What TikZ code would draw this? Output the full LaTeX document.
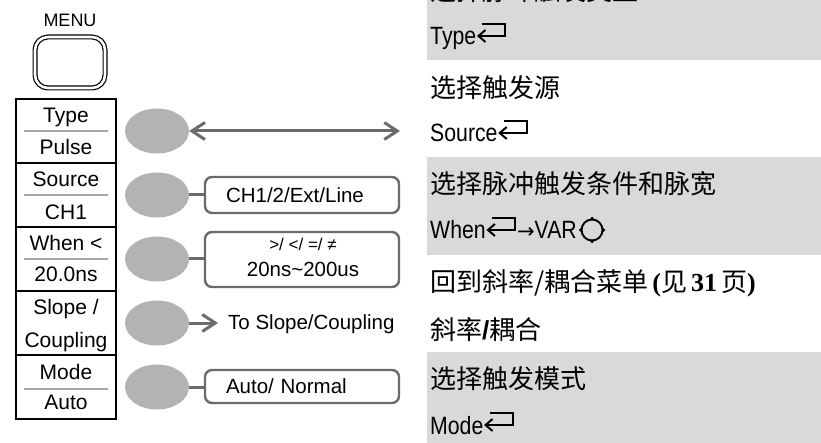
\documentclass[tikz,border=0pt]{standalone}
\usepackage{fontspec}
\setmainfont{Liberation Sans}
\newfontfamily\cjk{Noto Sans CJK SC}
\newfontfamily\serifb{Liberation Serif}
\newfontfamily\dejavu{DejaVu Sans}
\newfontfamily\narrowsans{Liberation Sans}[FakeStretch=0.85]
\usetikzlibrary{arrows.meta,shapes.geometric}
\definecolor{btngray}{HTML}{B3B3B3}
\definecolor{linegray}{HTML}{6B6B6B}
\definecolor{bandgray}{HTML}{D9D9D9}
\definecolor{sepgray}{HTML}{A6A6A6}
\begin{document}
\begin{tikzpicture}[x=1pt,y=-1pt,
  btn/.style={ellipse, fill=btngray, minimum width=64pt, minimum height=45pt, inner sep=0pt},
  conn/.style={draw=linegray, line width=3pt},
  optbox/.style={draw=linegray, line width=2.4pt, rounded corners=7pt, minimum width=194pt, inner sep=0pt},
  boxtext/.style={font=\fontsize{20.5}{24}\selectfont, text width=152pt, align=left, inner xsep=21pt, text height=14.7pt, text depth=0pt},
  ptext/.style={anchor=base, inner sep=0pt, font=\fontsize{21}{25}\selectfont},
  btext/.style={anchor=base west, inner sep=0pt, font=\fontsize{20.5}{24}\selectfont},
  rlat/.style={anchor=base west, inner sep=0pt, font=\fontsize{25}{29}\selectfont\narrowsans},
  rcjk/.style={anchor=base west, inner sep=0pt, font=\fontsize{26}{30}\selectfont\cjk},
  retsym/.pic={
    \draw[line width=2pt, line join=miter] (7,-6) -- (0,0) -- (7,6);
    \draw[line width=2pt, line join=miter] (0,0) -- (27,0) -- (27,-12) -- (4,-12);
  }
]
\useasboundingbox (0,0) rectangle (821,443);

% right-hand gray bands
\fill[bandgray] (427,-2) rectangle (823,60);
\fill[bandgray] (427,157.5) rectangle (823,255);
\fill[bandgray] (427,352) rectangle (823,445);

% MENU button
\node[anchor=base, inner sep=0pt, font=\fontsize{18}{20}\selectfont] (menuT) at (70,27) {MENU};
\node[draw, double, double distance=2.6pt, line width=1.2pt, rounded corners=13pt,
      minimum width=70pt, minimum height=51pt, inner sep=0pt] (menuB) at (70,62.5) {};

% left panel
\draw[line width=1.2pt] (16,99) rectangle (116,419);
\foreach \yy in {163,227,291,355} \draw[line width=1.2pt] (16,\yy) -- (116,\yy);
\foreach \yy in {131,195,259,389} \draw[sepgray, line width=1.3pt] (24,\yy) -- (108,\yy);

\node[ptext] (pType)  at (66,123) {Type};
\node[ptext] (pPulse) at (66,155) {Pulse};
\node[ptext] (pSrc)   at (66,187) {Source};
\node[ptext] (pCH1)   at (66,220) {CH1};
\node[ptext] (pWhen)  at (66,251) {When <};
\node[ptext] (pTime)  at (66,282) {20.0ns};
\node[ptext] (pSlope) at (66,315) {Slope /};
\node[ptext] (pCoup)  at (66,347) {Coupling};
\node[ptext] (pMode)  at (66,379) {Mode};
\node[ptext] (pAuto)  at (66,409) {Auto};

% soft-key buttons
\node[btn] (b1) at (157,131) {};
\node[btn] (b2) at (157,195) {};
\node[btn] (b3) at (157,259) {};
\node[btn] (b4) at (157,323) {};
\node[btn] (b5) at (157,387) {};

% option boxes
\node[optbox, boxtext, minimum height=36pt] (srcbox) at (302,195) {CH1/2/Ext/Line};
\node[optbox, minimum height=55pt] (wbox) at (302,259.5) {};
\node[anchor=base, inner sep=0pt, font=\fontsize{17}{20}\selectfont] (wopt1) at (303,251) {>/ </ =/ ≠};
\node[anchor=base, inner sep=0pt, font=\fontsize{20.5}{24}\selectfont] (wopt2) at (303,277) {20ns\textasciitilde200us};
\node[optbox, boxtext, minimum height=33pt] (modebox) at (302,386.5) {Auto/ Normal};

% connectors
\coordinate (typeend) at (400,131);
\coordinate (slopeend) at (218,323);
\draw[conn, {Straight Barb[length=13pt,width=17pt]}-{Straight Barb[length=13pt,width=17pt]}] (b1.east) -- (typeend);
\draw[conn] (b2.east) -- (srcbox.west);
\draw[conn] (b3.east) -- (b3.east -| wbox.west);
\draw[conn, -{Straight Barb[length=13pt,width=17pt]}] (b4.east) -- (slopeend);
\draw[conn] (b5.east) -- (b5.east -| modebox.west);
\node[btext] (slopeT) at (228,330) {To Slope/Coupling};

% right-hand description text
\node[rcjk] (r0) at (430,1) {选择脉冲触发类型};
\node[rlat] (r1) at (430,45) {Type};
\path (r1.base east) ++(2,-9) pic {retsym};
\node[rcjk] (r2) at (430,97.5) {选择触发源};
\node[rlat] (r3) at (430,142) {Source};
\path (r3.base east) ++(2,-9) pic {retsym};
\node[rcjk] (r4) at (430,194) {选择脉冲触发条件和脉宽};
\node[rlat] (r5) at (430,239) {When};
\path (r5.base east) ++(2,-9) pic {retsym};
\node[rlat] (r5b) at ([xshift=31pt]r5.base east) {{\dejavu\fontsize{21}{25}\selectfont →}VAR};
\node[circle, draw, line width=1.9pt, minimum size=21pt, inner sep=0pt] (knob) at ([xshift=15pt, yshift=9pt]r5b.base east) {};
\fill (knob.north) circle (1.8pt);
\fill (knob.south) circle (1.8pt);
\fill (knob.east) circle (1.8pt);
\fill (knob.west) circle (1.8pt);
\node[rcjk] (r6) at (430,291) {回到斜率/耦合菜单\hspace{4pt}{\serifb\bfseries(}见\hspace{4pt}{\serifb\bfseries 31}\hspace{4pt}页{\serifb\bfseries)}};
\node[rcjk] (r7) at (430,339) {斜率{\rmfamily\bfseries /}耦合};
\node[rcjk] (r8) at (430,388) {选择触发模式};
\node[rlat] (r9) at (430,434) {Mode};
\path (r9.base east) ++(2,-9) pic {retsym};
\end{tikzpicture}
\end{document}
